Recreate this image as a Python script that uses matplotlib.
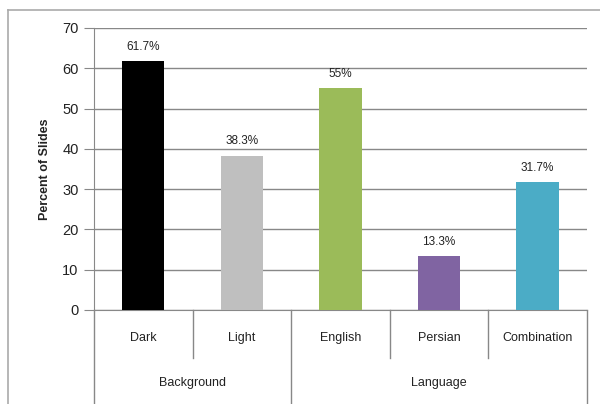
import matplotlib
matplotlib.use("Agg")
import matplotlib.pyplot as plt
import matplotlib.transforms as mtransforms
from matplotlib.lines import Line2D

# data
categories = ['Dark', 'Light', 'English', 'Persian', 'Combination']
groups = ['Background', 'Language']
group_sizes = [2, 3]
values = [61.7, 38.3, 55, 13.3, 31.7]
value_labels = ['61.7%', '38.3%', '55%', '13.3%', '31.7%']
colors = ['#000000', '#BFBFBF', '#9BBB59', '#8064A2', '#4BACC6']

plt.rcParams['font.family'] = ['Liberation Sans', 'DejaVu Sans']

fig = plt.figure(figsize=(6, 4.04), dpi=100)
ax = fig.add_axes([0.1567, 0.2327, 0.8213, 0.698])

x = list(range(len(categories)))
ax.bar(x, values, width=0.43, color=colors, zorder=3)
for xi, v, lab in zip(x, values, value_labels):
    ax.annotate(lab, (xi, v), xytext=(0, 6), textcoords='offset points',
                ha='center', va='bottom', fontsize=8.5, color='#222222')

ax.set_xlim(-0.5, len(categories) - 0.5)
ax.set_ylim(0, 70)
ax.set_yticks(range(0, 71, 10))
ax.yaxis.grid(True, color='#888888', linewidth=1.0, zorder=0)
ax.tick_params(axis='y', length=7, color='#888888', labelsize=10.5, pad=4, labelcolor='#222222')
ax.set_xticks([])
for s in ['top', 'right']:
    ax.spines[s].set_visible(False)
ax.spines['left'].set_color('#888888')
ax.spines['bottom'].set_color('#888888')
ax.set_ylabel('Percent of Slides', fontsize=9, fontweight='bold', color='#222222', labelpad=8)

# hierarchical category axis
trans = mtransforms.blended_transform_factory(ax.transData, ax.transAxes)
for xi, c in zip(x, categories):
    ax.text(xi, -0.1, c, transform=trans, ha='center', va='center', fontsize=9, color='#222222')
# separators inside groups
start = 0
bounds = [-0.5]
for n in group_sizes:
    bounds.append(start + n - 0.5)
    start += n
start = 0
for n in group_sizes:
    for k in range(1, n):
        xb = start + k - 0.5
        ax.plot([xb, xb], [0, -0.17], transform=trans, color='#888888', lw=1, clip_on=False)
    start += n
for xb in bounds:
    ax.plot([xb, xb], [0, -0.35], transform=trans, color='#888888', lw=1, clip_on=False)
start = 0
for g, n in zip(groups, group_sizes):
    ax.text(start + (n - 1) / 2, -0.26, g, transform=trans, ha='center', va='center',
            fontsize=9, color='#222222')
    start += n

# outer chart frame
fig.add_artist(Line2D([8 / 600, 1], [1 - 10 / 404, 1 - 10 / 404], transform=fig.transFigure,
                      color='#AAAAAA', lw=1.2))
fig.add_artist(Line2D([8 / 600, 8 / 600], [0, 1 - 10 / 404], transform=fig.transFigure,
                      color='#AAAAAA', lw=1.2))

fig.savefig('out.png', dpi=100)
